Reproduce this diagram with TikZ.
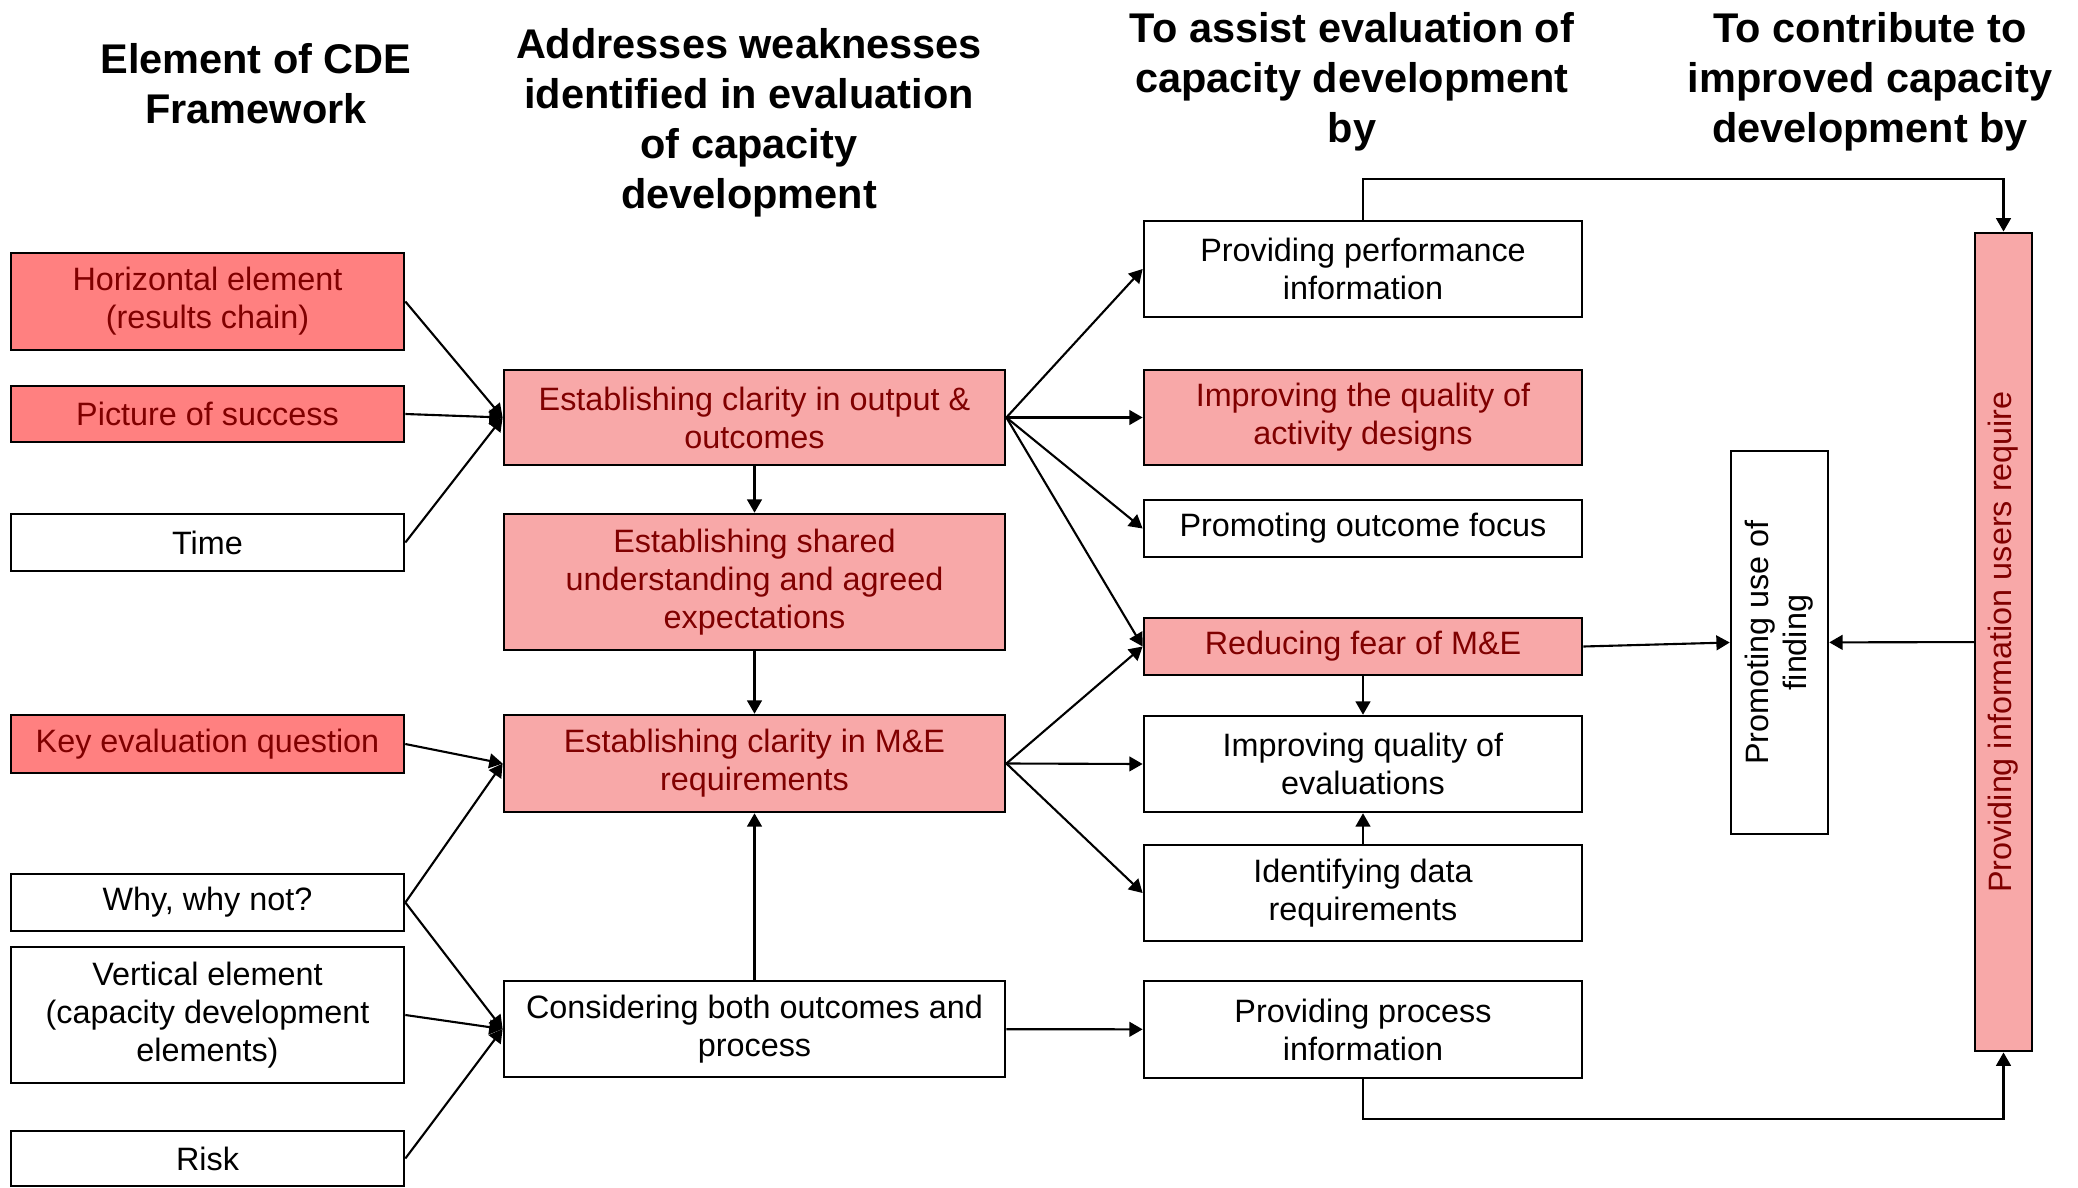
\documentclass[tikz,border=0pt]{standalone}
\usepackage{fontspec}
\setmainfont{Liberation Sans}
\usetikzlibrary{arrows.meta}

\definecolor{boxred}{RGB}{255,128,128}
\definecolor{meshred}{RGB}{248,168,168}
\definecolor{textred}{RGB}{128,0,0}

\tikzset{
  txt/.style={font=\fontsize{9.2}{10.8}\selectfont},
  plain/.style={txt, draw, line width=0.7pt, inner sep=0pt, align=center},
  hot/.style={plain, fill=boxred, text=textred},
  mesh/.style={plain, fill=meshred, text=textred},
  head/.style={align=center, font=\bfseries\fontsize{11.8}{14.2}\selectfont},
  leftcol/.style={minimum width=3.93cm},
  midcol/.style={minimum width=5.01cm},
  rightcol/.style={minimum width=4.38cm},
  arr/.style={line width=0.6pt, -{Triangle[length=3.8pt,width=4.2pt]}}
}

\begin{document}
\begin{tikzpicture}[x=0.01cm, y=-0.01cm]
    \useasboundingbox (0,0) rectangle (2078,1188);

    % Column headings
    \node [head] (h1) at (256,84) {Element of CDE\\Framework};
    \node [head] (h2) at (749,123) {Addresses weaknesses\\identified in evaluation\\of capacity\\development};
    \node [head] (h3) at (1352,82) {To assist evaluation of\\capacity development\\by};
    \node [head] (h4) at (1870,82) {To contribute to\\improved capacity\\development by};

    % Elements of the CDE framework
    \node [hot, leftcol, minimum height=0.97cm] (horiz) at (207.5,301.5) {Horizontal element\\(results chain)};
    \node [hot, leftcol, minimum height=0.56cm] (picture) at (207.5,414) {Picture of success};
    \node [plain, leftcol, minimum height=0.57cm] (time) at (207.5,542.5) {Time};
    \node [hot, leftcol, minimum height=0.58cm] (keyq) at (207.5,744) {Key evaluation question};
    \node [plain, leftcol, minimum height=0.57cm] (why) at (207.5,902.5) {Why, why not?};
    \node [plain, leftcol, minimum height=1.36cm] (vert) at (207.5,1015) {Vertical element\\(capacity development\\elements)};
    \node [plain, leftcol, minimum height=0.55cm] (risk) at (207.5,1158.5) {Risk};

    % Weaknesses addressed
    \node [mesh, midcol, minimum height=0.95cm] (clarity) at (754.5,417.5) {Establishing clarity in output \&\\outcomes};
    \node [mesh, midcol, minimum height=1.36cm] (shared) at (754.5,582) {Establishing shared\\understanding and agreed\\expectations};
    \node [mesh, midcol, minimum height=0.97cm] (mereq) at (754.5,763.5) {Establishing clarity in M\&E\\requirements};
    \node [plain, midcol, minimum height=0.96cm] (both) at (754.5,1029) {Considering both outcomes and\\process};

    % Assisting evaluation
    \node [plain, rightcol, minimum height=0.96cm] (perf) at (1363,269) {Providing performance\\information};
    \node [mesh, rightcol, minimum height=0.95cm] (design) at (1363,417.5) {Improving the quality of\\activity designs};
    \node [plain, rightcol, minimum height=0.57cm] (focus) at (1363,528.5) {Promoting outcome focus};
    \node [mesh, rightcol, minimum height=0.57cm] (fear) at (1363,646.5) {Reducing fear of M\&E};
    \node [plain, rightcol, minimum height=0.96cm] (quality) at (1363,764) {Improving quality of\\evaluations};
    \node [plain, rightcol, minimum height=0.96cm] (data) at (1363,893) {Identifying data\\requirements};
    \node [plain, rightcol, minimum height=0.97cm] (process) at (1363,1029.5) {Providing process\\information};

    % Improved capacity development
    \node [plain, minimum width=0.97cm, minimum height=3.83cm] (use) at (1779.5,642.5) {};
    \node [txt, rotate=90, align=center] (uselabel) at (use) {Promoting use of\\finding};
    \node [mesh, minimum width=0.57cm, minimum height=8.18cm] (users) at (2003.5,642) {};
    \node [txt, rotate=90, text=textred] (userslabel) at (users) {Providing information users require};

    % Edges into the middle column
    \draw [arr] (horiz.east) -- (clarity.west);
    \draw [arr] (picture.east) -- (clarity.west);
    \draw [arr] (time.east) -- (clarity.west);
    \draw [arr] (keyq.east) -- (mereq.west);
    \draw [arr] (why.east) -- (mereq.west);
    \draw [arr] (why.east) -- (both.west);
    \draw [arr] (vert.east) -- (both.west);
    \draw [arr] (risk.east) -- (both.west);

    % Edges within the middle column
    \draw [arr] (clarity) -- (shared);
    \draw [arr] (shared) -- (mereq);
    \draw [arr] (both) -- (mereq);

    % Edges into the right column
    \draw [arr] (clarity.east) -- (perf.west);
    \draw [arr] (clarity.east) -- (design.west);
    \draw [arr] (clarity.east) -- (focus.west);
    \draw [arr] (clarity.east) -- (fear.west);
    \draw [arr] (mereq.east) -- (fear.west);
    \draw [arr] (mereq.east) -- (quality.west);
    \draw [arr] (mereq.east) -- (data.west);
    \draw [arr] (both) -- (process);
    \draw [arr] (fear) -- (quality);
    \draw [arr] (data) -- (quality);

    % Edges to the last column
    \coordinate (toprail) at (2003.5,179);
    \coordinate (botrail) at (2003.5,1119);
    \draw [arr] (fear.east) -- (use.west);
    \draw [arr] (users) -- (use);
    \draw [arr] (perf.north) |- (toprail) -- (users.north);
    \draw [arr] (process.south) |- (botrail) -- (users.south);
\end{tikzpicture}
\end{document}
